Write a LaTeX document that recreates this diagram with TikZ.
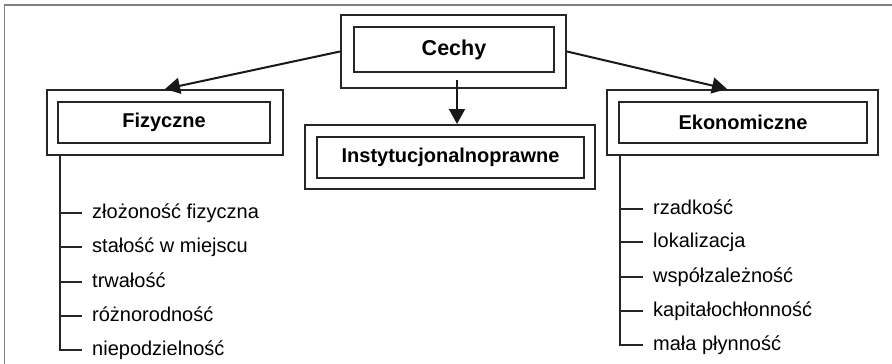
\documentclass[tikz,border=0pt]{standalone}
\usepackage{fontspec}
\setmainfont{Liberation Sans}
\usetikzlibrary{arrows.meta}
\begin{document}
\begin{tikzpicture}[x=1pt,y=-1pt,
  outerbox/.style={draw=black!85, line width=2pt, inner sep=0pt, fill=white},
  innerbox/.style={draw=black!85, line width=2pt, inner sep=0pt, font=\fontsize{20}{24}\selectfont\bfseries},
  link/.style={draw=black!90, line width=2pt, -{Triangle[length=15pt,width=16pt]}},
  branch/.style={draw=black!85, line width=2pt},
  item/.style={anchor=west, inner sep=0pt, text height=14.5pt, text depth=4pt, font=\fontsize{20}{24}\selectfont},
  frameline/.style={draw=black!50, line width=1.5pt}]
\useasboundingbox (0,0) rectangle (892,364);
\fill[white] (0,0) rectangle (892,364);
\draw[frameline] (4.5,364) -- (4.5,5) -- (892,5);

% top node
\node[outerbox, minimum width=225, minimum height=73] (cechyO) at (453.5,51.5) {};
\node[innerbox, minimum width=200, minimum height=45, font=\fontsize{21.5}{26}\selectfont\bfseries] (cechy) at (454,49.5) {Cechy};

% three groups
\node[outerbox, minimum width=236, minimum height=65] (fizO) at (165,122.5) {};
\node[innerbox, minimum width=212, minimum height=41] (fiz) at (164,122.5) {Fizyczne};

\node[outerbox, minimum width=290, minimum height=64] (instO) at (450,157) {};
\node[innerbox, minimum width=267, minimum height=41] (inst) at (450.5,157.5) {Instytucjonalnoprawne};

\node[outerbox, minimum width=271, minimum height=65] (ekoO) at (742.5,122.5) {};
\node[innerbox, minimum width=248, minimum height=41] (eko) at (743,122.5) {Ekonomiczne};

% arrows
\draw[link] (cechyO.west) -- (fizO.north);
\draw[link] (cechyO.east) -- ([xshift=-15.5pt]ekoO.north);
\draw[link] ([xshift=3.5pt,yshift=9pt]cechyO.south) -- ([xshift=7pt]instO.north);

% physical features
\node[item] (f1) at (92,213) {złożoność fizyczna};
\node[item] (f2) at (92,247) {stałość w miejscu};
\node[item] (f3) at (92,282) {trwałość};
\node[item] (f4) at (92,316) {różnorodność};
\node[item] (f5) at (92,350) {niepodzielność};
\coordinate (fx) at (60,0);
\draw[branch] (fx |- fizO.south) -- (fx |- f5) -- ([xshift=-10pt]f5.west);
\foreach \i in {1,...,4} \draw[branch] (fx |- f\i) -- ([xshift=-10pt]f\i.west);

% economic features
\node[item] (e1) at (653,209) {rzadkość};
\node[item] (e2) at (653,242) {lokalizacja};
\node[item] (e3) at (653,277) {współzależność};
\node[item] (e4) at (653,311) {kapitałochłonność};
\node[item] (e5) at (653,345) {mała płynność};
\coordinate (ex) at (620,0);
\draw[branch] (ex |- ekoO.south) -- (ex |- e5) -- ([xshift=-10pt]e5.west);
\foreach \i in {1,...,4} \draw[branch] (ex |- e\i) -- ([xshift=-10pt]e\i.west);
\end{tikzpicture}
\end{document}
